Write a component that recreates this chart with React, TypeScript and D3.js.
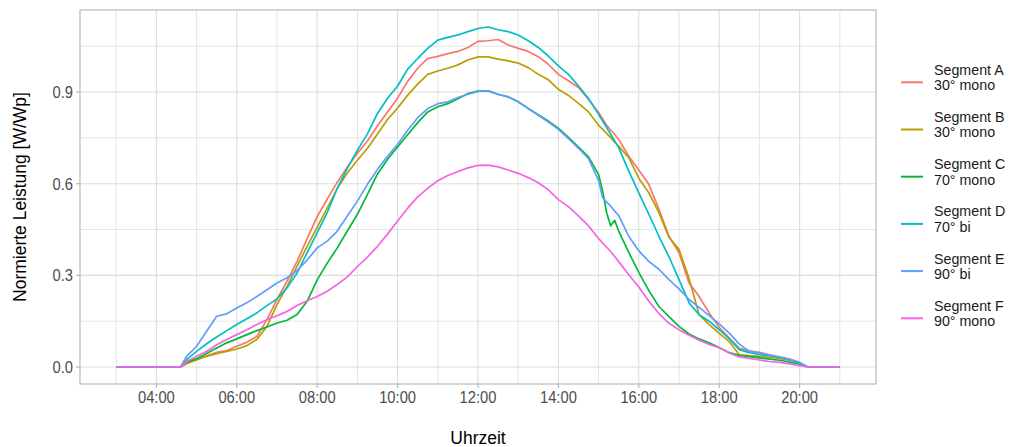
import React from 'react';
import * as d3 from 'd3';

// time of day in hours
const hours = [3, 4.6,
  4.75, 5, 5.25, 5.5, 5.75, 6,
  6.25, 6.5, 6.75, 7, 7.25, 7.5,
  7.75, 8, 8.25, 8.5, 8.75, 9,
  9.25, 9.5, 9.75, 10, 10.25, 10.5,
  10.75, 11, 11.25, 11.5, 11.75, 12,
  12.25, 12.5, 12.75, 13, 13.25, 13.5,
  13.75, 14, 14.25, 14.5, 14.75, 15,
  15.1, 15.2, 15.3, 15.4, 15.5,
  15.75, 16, 16.25, 16.5, 16.75, 17,
  17.25, 17.5, 17.75, 18, 18.25, 18.5,
  18.75, 19, 19.25, 19.5, 19.75, 20,
  20.2, 21];

const segA = [0, 0,
  0.013, 0.026, 0.037, 0.048, 0.054, 0.068,
  0.081, 0.1, 0.155, 0.221, 0.281, 0.346,
  0.42, 0.492, 0.55, 0.605, 0.655, 0.7,
  0.74, 0.79, 0.835, 0.88, 0.935, 0.978,
  1.01, 1.017, 1.026, 1.033, 1.046, 1.066,
  1.068, 1.072, 1.054, 1.043, 1.033, 1.016,
  0.991, 0.958, 0.937, 0.915, 0.876, 0.833,
  0.813, 0.791, 0.776, 0.761, 0.745,
  0.69, 0.645, 0.598, 0.516, 0.428, 0.374,
  0.275, 0.231, 0.177, 0.13, 0.095, 0.061,
  0.053, 0.048, 0.04, 0.033, 0.026, 0.015,
  0, 0];

const segB = [0, 0,
  0.011, 0.023, 0.035, 0.044, 0.051, 0.059,
  0.07, 0.09, 0.133, 0.204, 0.264, 0.33,
  0.395, 0.458, 0.52, 0.585, 0.635, 0.677,
  0.716, 0.763, 0.81, 0.848, 0.89, 0.926,
  0.958, 0.969, 0.978, 0.989, 1.005, 1.015,
  1.015, 1.008, 1.002, 0.995, 0.98, 0.958,
  0.94, 0.909, 0.889, 0.863, 0.835, 0.791,
  0.778, 0.765, 0.751, 0.736, 0.723,
  0.685, 0.618, 0.57, 0.505, 0.425, 0.385,
  0.29, 0.171, 0.139, 0.11, 0.083, 0.04,
  0.037, 0.035, 0.032, 0.028, 0.022, 0.013,
  0, 0];

const segC = [0, 0,
  0.016, 0.027, 0.044, 0.062, 0.079, 0.092,
  0.106, 0.119, 0.131, 0.144, 0.153, 0.172,
  0.215, 0.285, 0.34, 0.39, 0.445, 0.5,
  0.565, 0.632, 0.68, 0.72, 0.76, 0.8,
  0.835, 0.852, 0.862, 0.878, 0.895, 0.903,
  0.904, 0.893, 0.884, 0.868, 0.846, 0.826,
  0.805, 0.782, 0.752, 0.72, 0.688, 0.63,
  0.576, 0.505, 0.462, 0.48, 0.445,
  0.375, 0.31, 0.25, 0.198, 0.165, 0.133,
  0.108, 0.092, 0.079, 0.064, 0.047, 0.038,
  0.034, 0.03, 0.026, 0.022, 0.016, 0.01,
  0, 0];

const segD = [0, 0,
  0.024, 0.051, 0.076, 0.098, 0.119, 0.139,
  0.158, 0.177, 0.201, 0.223, 0.259, 0.308,
  0.374, 0.44, 0.505, 0.585, 0.65, 0.71,
  0.763, 0.83, 0.88, 0.92, 0.975, 1.01,
  1.043, 1.07, 1.079, 1.087, 1.098, 1.108,
  1.113, 1.104, 1.098, 1.087, 1.068, 1.046,
  1.018, 0.986, 0.958, 0.92, 0.879, 0.827,
  0.805, 0.784, 0.762, 0.74, 0.718,
  0.641, 0.57, 0.5, 0.428, 0.361, 0.286,
  0.21, 0.171, 0.15, 0.122, 0.092, 0.057,
  0.047, 0.041, 0.037, 0.032, 0.024, 0.014,
  0, 0];

const segE = [0, 0,
  0.035, 0.068, 0.117, 0.166, 0.174, 0.193,
  0.21, 0.231, 0.253, 0.275, 0.292, 0.316,
  0.35, 0.39, 0.412, 0.445, 0.494, 0.543,
  0.598, 0.647, 0.69, 0.728, 0.775, 0.816,
  0.846, 0.862, 0.868, 0.882, 0.893, 0.902,
  0.904, 0.892, 0.885, 0.869, 0.846, 0.824,
  0.802, 0.778, 0.748, 0.716, 0.682, 0.61,
  0.554, 0.54, 0.527, 0.51, 0.496,
  0.428, 0.38, 0.346, 0.32, 0.286, 0.256,
  0.221, 0.195, 0.168, 0.141, 0.111, 0.075,
  0.051, 0.046, 0.039, 0.031, 0.024, 0.014,
  0, 0];

const segF = [0, 0,
  0.018, 0.035, 0.051, 0.073, 0.09, 0.106,
  0.122, 0.139, 0.155, 0.168, 0.182, 0.201,
  0.217, 0.231, 0.248, 0.27, 0.295, 0.329,
  0.36, 0.395, 0.435, 0.478, 0.52, 0.557,
  0.585, 0.61, 0.627, 0.64, 0.652, 0.66,
  0.661, 0.655, 0.645, 0.634, 0.62, 0.603,
  0.58, 0.548, 0.525, 0.495, 0.462, 0.42,
  0.406, 0.392, 0.378, 0.362, 0.345,
  0.302, 0.262, 0.215, 0.175, 0.143, 0.122,
  0.104, 0.088, 0.074, 0.063, 0.046, 0.033,
  0.028, 0.023, 0.018, 0.015, 0.01, 0.004,
  0, 0];

const segNames = ['Segment A', 'Segment B', 'Segment C', 'Segment D', 'Segment E', 'Segment F'];
const segTypes = ['30° mono', '30° mono', '70° mono', '70° bi', '90° bi', '90° mono'];
const segColors = ['#F8766D', '#B79F00', '#00BA38', '#00BFC4', '#619CFF', '#F564E3'];

const xTickLabels = ['04:00', '06:00', '08:00', '10:00', '12:00', '14:00', '16:00', '18:00', '20:00'];
const yTicks = [0, 0.3, 0.6, 0.9];

const W = 1009;
const H = 447;
const panel = { left: 80, right: 876, top: 10, bottom: 384 };
const font = '"Liberation Sans", Arial, Helvetica, sans-serif';

// text in the reference is a little narrower than Arial at the same height
const Txt = ({ x, y, size, fill = '#000', anchor = 'start', rotate = 0, children }: any) => (
  <text
    transform={`translate(${x},${y})${rotate ? ` rotate(${rotate})` : ''} scale(0.92,1)`}
    fontSize={size}
    fill={fill}
    textAnchor={anchor}
    fontFamily={font}
  >
    {children}
  </text>
);

export default function App() {
  const series = [segA, segB, segC, segD, segE, segF].map((values, i) => ({
    name: segNames[i],
    type: segTypes[i],
    color: segColors[i],
    values,
  }));

  const xMin = d3.min(hours) as number;
  const xMax = d3.max(hours) as number;
  const xPad = (xMax - xMin) * 0.05;
  const x = d3.scaleLinear().domain([xMin - xPad, xMax + xPad]).range([panel.left, panel.right]);

  const yMax = d3.max(series, s => d3.max(s.values)) as number;
  const yPad = yMax * 0.05;
  const y = d3.scaleLinear().domain([-yPad, yMax + yPad]).range([panel.bottom, panel.top]);

  const xMajor = xTickLabels.map(l => +l.split(':')[0]);
  const xMinor = d3.range(Math.ceil(xMin - xPad), xMax + xPad, 2).filter(h => !xMajor.includes(h));
  const yMinor = d3.range(0.15, yMax + yPad, 0.3);

  const line = d3.line<number>()
    .x((_, i) => x(hours[i]))
    .y(d => y(d));

  const legendTop = 82.3;
  const legendStep = 47.2;

  return (
    <svg width={W} height={H} style={{ position: 'absolute', left: 0, top: 0, display: 'block' }}>
      <rect x={0} y={0} width={W} height={H} fill="#fff" />

      {/* grid */}
      <g>
        {yMinor.map(v => (
          <line key={'ym' + v} x1={panel.left} x2={panel.right} y1={y(v)} y2={y(v)} stroke="#e5e5e5" strokeWidth={1} />
        ))}
        {xMinor.map(h => (
          <line key={'xm' + h} x1={x(h)} x2={x(h)} y1={panel.top} y2={panel.bottom} stroke="#e5e5e5" strokeWidth={1} />
        ))}
        {yTicks.map(v => (
          <line key={'yM' + v} x1={panel.left} x2={panel.right} y1={y(v)} y2={y(v)} stroke="#dcdcdc" strokeWidth={1.1} />
        ))}
        {xMajor.map(h => (
          <line key={'xM' + h} x1={x(h)} x2={x(h)} y1={panel.top} y2={panel.bottom} stroke="#dcdcdc" strokeWidth={1.1} />
        ))}
      </g>

      {/* series */}
      <g fill="none" strokeWidth={1.7} strokeLinejoin="round">
        {series.map(s => (
          <path key={s.name} d={line(s.values) as string} stroke={s.color} />
        ))}
      </g>

      {/* panel border */}
      <rect
        x={panel.left}
        y={panel.top}
        width={panel.right - panel.left}
        height={panel.bottom - panel.top}
        fill="none"
        stroke="#b3b3b3"
        strokeWidth={1.1}
      />

      {/* y axis */}
      {yTicks.map(v => (
        <g key={'yt' + v}>
          <line x1={panel.left - 4} x2={panel.left} y1={y(v)} y2={y(v)} stroke="#b3b3b3" strokeWidth={1.1} />
          <Txt x={panel.left - 7} y={y(v) + 6} size={16} fill="#4d4d4d" anchor="end">
            {v.toFixed(1)}
          </Txt>
        </g>
      ))}

      {/* x axis */}
      {xTickLabels.map((l, i) => (
        <g key={l}>
          <line x1={x(xMajor[i])} x2={x(xMajor[i])} y1={panel.bottom} y2={panel.bottom + 4} stroke="#b3b3b3" strokeWidth={1.1} />
          <Txt x={x(xMajor[i])} y={panel.bottom + 19} size={16} fill="#4d4d4d" anchor="middle">
            {l}
          </Txt>
        </g>
      ))}

      {/* axis titles */}
      <Txt x={(panel.left + panel.right) / 2} y={444} size={19} anchor="middle">
        Uhrzeit
      </Txt>
      <Txt x={26} y={(panel.top + panel.bottom) / 2} size={19} anchor="middle" rotate={-90}>
        Normierte Leistung [W/Wp]
      </Txt>

      {/* legend */}
      {series.map((s, i) => {
        const cy = legendTop + i * legendStep;
        return (
          <g key={'lg' + s.name}>
            <line x1={901} x2={923} y1={cy} y2={cy} stroke={s.color} strokeWidth={2} />
            <Txt x={934} y={cy - 7.6} size={15.5} fill="#1a1a1a">{s.name}</Txt>
            <Txt x={934} y={cy + 7.9} size={15.5} fill="#1a1a1a">{s.type}</Txt>
          </g>
        );
      })}
    </svg>
  );
}
